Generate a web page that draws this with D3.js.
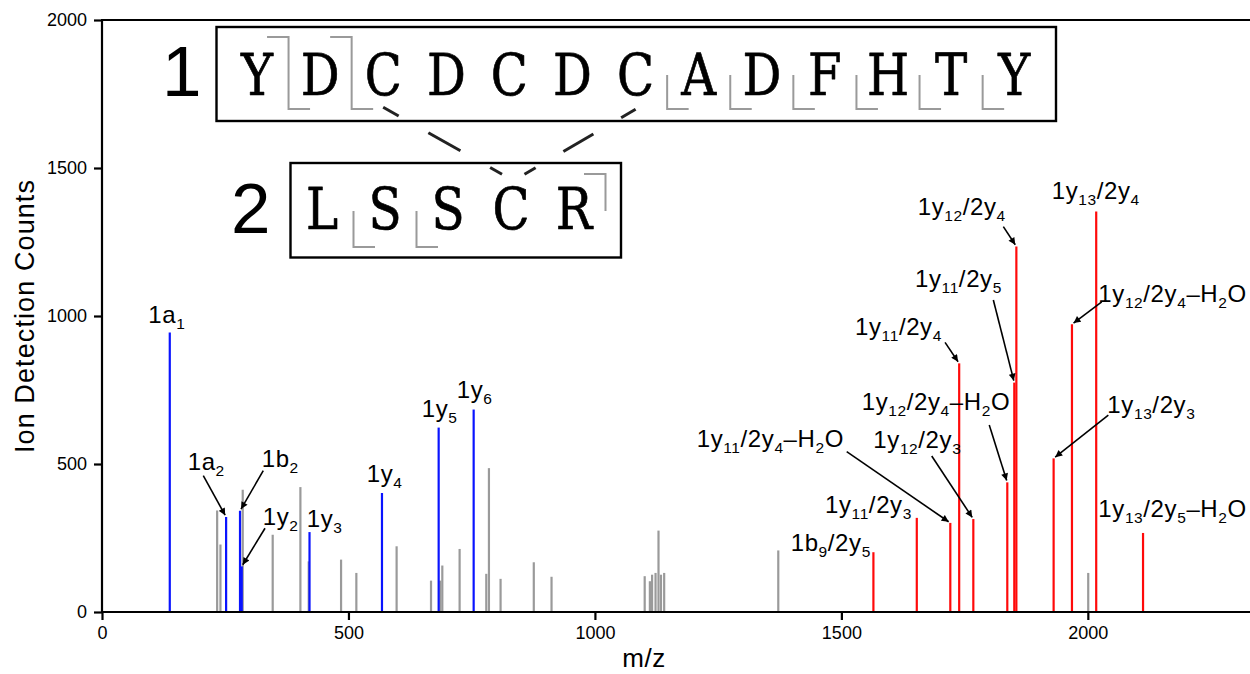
<!DOCTYPE html>
<html><head><meta charset="utf-8">
<script src="https://cdn.jsdelivr.net/npm/d3@7"></script>
<style>body{margin:0;background:#fff}svg{display:block}</style>
</head><body>
<svg id="c" width="1250" height="674"></svg>
<script>
// ---------- data ----------
const xTicks = [0, 500, 1000, 1500, 2000];
const yTicks = [0, 500, 1000, 1500, 2000];

const grayMz     = [233.6,240.3,285.5,346.3,402.5,419.4,485,516,597.7,667.5,686.3,690.4,725.5,779.6,785,808.6,876,912,1101,1111.5,1116,1123,1129,1134,1140.5,1372,2000.8];
const grayCounts = [343,228,413,261,422,171,177,132,222,106,106,157,213,129,486,112,168,119,121,104,126,132,275,126,132,208,132];

const blueIons   = ["1a_{1}","1a_{2}","1b_{2}","1y_{2}","1y_{3}","1y_{4}","1y_{5}","1y_{6}"];
const blueMz     = [137.5,251.8,280,283.5,421,568,683,754];
const blueCounts = [944,321,342,154,270,402,623,684];

const redIons   = ["1b_{9}/2y_{5}","1y_{11}/2y_{3}","1y_{11}/2y_{4}–H_{2}O","1y_{11}/2y_{4}","1y_{12}/2y_{3}","1y_{12}/2y_{4}–H_{2}O","1y_{11}/2y_{5}","1y_{12}/2y_{4}","1y_{13}/2y_{3}","1y_{12}/2y_{4}–H_{2}O","1y_{13}/2y_{4}","1y_{13}/2y_{5}–H_{2}O"];
const redMz     = [1565,1653,1721,1739,1767.7,1836.6,1850.8,1855,1930.6,1967.8,2017,2112];
const redCounts = [202,318,301,840,314,438,775,1235,519,972,1353,267];

// label anchor (data coords: m/z, counts) and optional arrow start
const blueLabelAt = [[93.9,975],[173.9,480],[324,491],[326,294],[415.3,288],[537,440],[648.6,660],[719.6,722]];
const blueArrowFrom = [null,[205.5,460.5],[327.2,477.4],[330.7,282.8],null,null,null,null];
const redLabelAt = [[1397.2,207],[1466.8,333],[1206.5,558],[1527.7,936],[1564.8,553],[1541.3,682],[1649.4,1099],[1655,1341],[2039.6,671],[2021.3,1048],[1926.7,1394],[2021.3,322]];
const redArrowFrom = [null,null,[1510.8,541.6],[1710.3,911],[1683.3,527],[1800,632],[1808.3,1054],[1828.6,1302],[2041.6,665.5],[2028.2,1048],null,null];

const seq1 = ["Y","D","C","D","C","D","C","A","D","F","H","T","Y"];
const seq2 = ["L","S","S","C","R"];
const seq1B = [0,1];                 // N-terminal fragment marks after residue index
const seq1Y = [0,1,6,7,8,9,10,11];   // C-terminal fragment marks after residue index
const seq2B = [4];
const seq2Y = [0,1];
const links = [[2,3],[6,3]];         // seq1 residue index -> seq2 residue index

// ---------- layout ----------
const svg = d3.select("#c");
const W = 1250;
const x = d3.scaleLinear().domain([0, 2329]).range([102, 1250]);
const y = d3.scaleLinear().domain([0, 2000]).range([612, 20]);
const SANS = "'Liberation Sans', Arial, Helvetica, sans-serif";
const SERIF = "'DejaVu Serif', 'Liberation Serif', serif";

// arrow marker
svg.append("defs").append("marker")
  .attr("id","ah").attr("viewBox","0 0 10 10").attr("refX",10).attr("refY",5)
  .attr("markerUnits","userSpaceOnUse").attr("markerWidth",9).attr("markerHeight",7)
  .attr("orient","auto")
  .append("path").attr("d","M0,0L10,5L0,10z").attr("fill","#000");

// peaks
function peaks(mz, counts, color){
  svg.append("g").selectAll("line").data(mz.map((m,i)=>[m,counts[i]])).join("line")
    .attr("x1",d=>x(d[0])).attr("x2",d=>x(d[0]))
    .attr("y1",y(0)).attr("y2",d=>y(d[1]))
    .attr("stroke",color).attr("stroke-width",2.2);
}
peaks(grayMz, grayCounts, "#9a9a9a");
peaks(blueMz, blueCounts, "#0a14ff");
peaks(redMz, redCounts, "#ff0a0a");

// axes
const fmt = d3.format("d");
const gx = svg.append("g").attr("transform",`translate(0,${y(0)})`)
  .call(d3.axisBottom(x).tickValues(xTicks).tickFormat(fmt).tickSizeOuter(0).tickSize(8).tickPadding(6));
const gy = svg.append("g").attr("transform",`translate(${x(0)},0)`)
  .call(d3.axisLeft(y).tickValues(yTicks).tickFormat(fmt).tickSizeOuter(0).tickSize(8).tickPadding(7));
[gx,gy].forEach(g=>{
  g.select(".domain").attr("stroke","#000").attr("stroke-width",2.2);
  g.selectAll(".tick line").attr("stroke","#000").attr("stroke-width",2.2);
  g.selectAll(".tick text").attr("font-family",SANS).attr("font-size",18).attr("fill","#000");
});
gx.select(".domain").attr("d",`M${x(0)-1},0H${W}`);
gy.select(".domain").attr("d",`M0,${y(0)}V${y(2000)}`);
svg.append("line").attr("x1",x(0)-1).attr("x2",W).attr("y1",y(2000)).attr("y2",y(2000))
  .attr("stroke","#000").attr("stroke-width",2.2);

svg.append("text").attr("x",644).attr("y",667).attr("text-anchor","middle")
  .attr("font-family",SANS).attr("font-size",26).attr("letter-spacing",0.5).text("m/z");
svg.append("text").attr("transform",`translate(34,${(y(0)+y(2000))/2}) rotate(-90)`)
  .attr("text-anchor","middle").attr("font-family",SANS).attr("font-size",27)
  .attr("letter-spacing",1.1).text("Ion Detection Counts");

// ion labels
function richText(g, str, px, py){
  const t = g.append("text").attr("x",px).attr("y",py)
    .attr("font-family",SANS).attr("font-size",24).attr("letter-spacing",0.6).attr("fill","#000");
  const parts = str.split(/(_\{[^}]*\})/).filter(s=>s.length);
  let lowered = false;
  parts.forEach(p=>{
    if(p.startsWith("_{")){
      t.append("tspan").attr("font-size",15.5).attr("dy",6).text(p.slice(2,-1));
      lowered = true;
    } else {
      const ts = t.append("tspan").text(p);
      if(lowered){ ts.attr("dy",-6); lowered = false; }
    }
  });
}
function labels(ions, mz, counts, at, from){
  const g = svg.append("g");
  ions.forEach((s,i)=>{
    richText(g, s, x(at[i][0]), y(at[i][1]));
    if(from[i]){
      const x0 = x(from[i][0]), y0 = y(from[i][1]);
      let x1 = x(mz[i]), y1 = y(counts[i]);
      const dx = x1-x0, dy = y1-y0, L = Math.hypot(dx,dy);
      x1 -= dx/L*2; y1 -= dy/L*2;
      g.append("line").attr("x1",x0).attr("y1",y0).attr("x2",x1).attr("y2",y1)
        .attr("stroke","#000").attr("stroke-width",1.6).attr("marker-end","url(#ah)");
    }
  });
}
labels(blueIons, blueMz, blueCounts, blueLabelAt, blueArrowFrom);
labels(redIons, redMz, redCounts, redLabelAt, redArrowFrom);

// peptide boxes
const P = {
  one:{box:[216.5,27,1056,121], x0:257, pitch:63.1, base:95, top:37, mid:75, bot:109, num:"1", numX:162, numBase:96},
  two:{box:[290.5,163,621,257.5], x0:322, pitch:63.0, base:228.5, top:174, mid:211, bot:247, num:"2", numX:231, numBase:232.5}
};
const arm = 21.5;
function peptide(seq, cfg, bIdx, yIdx){
  const g = svg.append("g");
  const [bx0,by0,bx1,by1] = cfg.box;
  g.append("rect").attr("x",bx0).attr("y",by0).attr("width",bx1-bx0).attr("height",by1-by0)
    .attr("fill","none").attr("stroke","#000").attr("stroke-width",2.4);
  g.append("text").attr("x",cfg.numX).attr("y",cfg.numBase).attr("font-family",SANS)
    .attr("font-size",71).text(cfg.num);
  g.selectAll("text.aa").data(seq).join("text").attr("class","aa")
    .attr("transform",(d,i)=>`translate(${cfg.x0+i*cfg.pitch},${cfg.base}) scale(0.85,1)`)
    .attr("text-anchor","middle")
    .attr("font-family",SERIF).attr("font-size",57).attr("fill","#000")
    .attr("stroke","#000").attr("stroke-width",0.7).attr("stroke-linejoin","round")
    .text(d=>d);
  const mk = i => cfg.x0 + (i+0.5)*cfg.pitch;
  bIdx.forEach(i=>{
    g.append("path").attr("d",`M${mk(i)-arm},${cfg.top}H${mk(i)}V${cfg.mid}`)
      .attr("fill","none").attr("stroke","#9a9a9a").attr("stroke-width",2);
  });
  yIdx.forEach(i=>{
    g.append("path").attr("d",`M${mk(i)},${cfg.mid}V${cfg.bot}H${mk(i)+arm}`)
      .attr("fill","none").attr("stroke","#9a9a9a").attr("stroke-width",2);
  });
}
peptide(seq1, P.one, seq1B, seq1Y);
peptide(seq2, P.two, seq2B, seq2Y);

// disulfide links, broken where they cross the boxes
const segs = [[0,0.13],[0.38,0.65],[0.9,1]];
links.forEach(([a,b],k)=>{
  const sx = P.one.x0 + a*P.one.pitch, sy = k===0 ? 107.3 : 109.3;
  const ex = P.two.x0 + b*P.two.pitch + (k===0 ? -9 : 13.5), ey = 174.2;
  segs.forEach(([t0,t1])=>{
    svg.append("line")
      .attr("x1",sx+(ex-sx)*t0).attr("y1",sy+(ey-sy)*t0)
      .attr("x2",sx+(ex-sx)*t1).attr("y2",sy+(ey-sy)*t1)
      .attr("stroke","#222").attr("stroke-width",3);
  });
});
</script>
</body></html>
